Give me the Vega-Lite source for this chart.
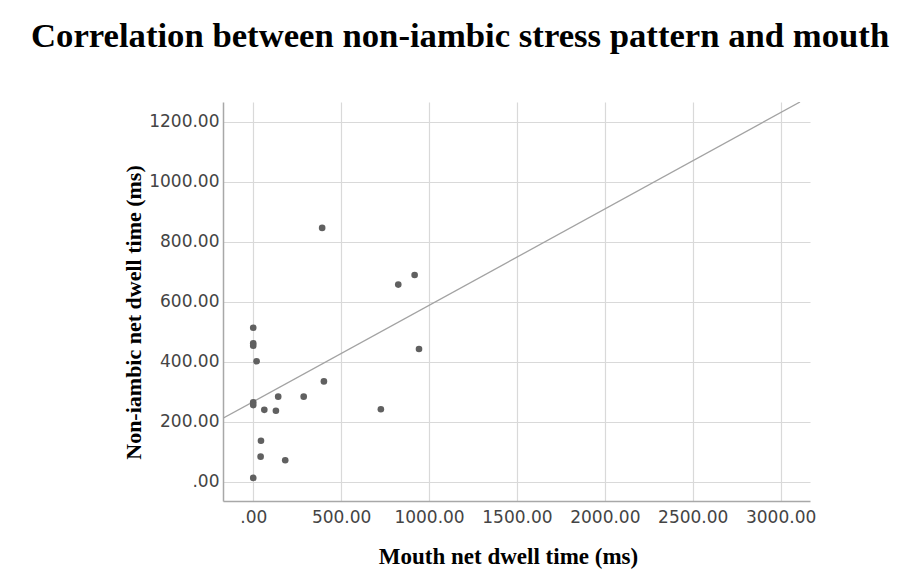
{
  "$schema": "https://vega.github.io/schema/vega-lite/v6.json",
  "width": 587,
  "height": 399,
  "autosize": {"type": "none"},
  "padding": {"left": 223, "top": 102, "right": 88, "bottom": 75},
  "background": "white",
  "title": {
    "text": "Correlation between non-iambic stress pattern and mouth",
    "font": "Liberation Serif",
    "fontSize": 34.7,
    "fontWeight": "bold",
    "color": "black",
    "anchor": "start",
    "frame": "group",
    "dx": -192,
    "baseline": "alphabetic",
    "offset": 20
  },
  "datasets": {
    "points": [
      {"x": 392, "y": 846},
      {"x": 825, "y": 657},
      {"x": 918, "y": 689},
      {"x": 943, "y": 442},
      {"x": 0, "y": 513},
      {"x": 0, "y": 461},
      {"x": 0, "y": 453},
      {"x": 19, "y": 401},
      {"x": 402, "y": 334},
      {"x": 142, "y": 283},
      {"x": 287, "y": 283},
      {"x": 0, "y": 264},
      {"x": 0, "y": 255},
      {"x": 63, "y": 239},
      {"x": 129, "y": 236},
      {"x": 726, "y": 241},
      {"x": 44, "y": 136},
      {"x": 42, "y": 83},
      {"x": 182, "y": 71},
      {"x": 0, "y": 12}
    ],
    "fit": [
      {"x": -172, "y": 211},
      {"x": 3110, "y": 1266}
    ]
  },
  "encoding": {
    "x": {
      "field": "x",
      "type": "quantitative",
      "scale": {"domain": [-172, 3167], "nice": false, "zero": false},
      "axis": {
        "title": "Mouth net dwell time (ms)",
        "values": [0, 500, 1000, 1500, 2000, 2500, 3000],
        "labelExpr": "datum.value == 0 ? '.00' : format(datum.value, '.2f')",
        "ticks": false,
        "labelPadding": 8,
        "labelFont": "DejaVu Sans",
        "labelFontSize": 17,
        "labelColor": "#444444",
        "labelFlush": false,
        "titleFont": "Liberation Serif",
        "titleFontSize": 23,
        "titleFontWeight": "bold",
        "titleColor": "black",
        "titlePadding": 20,
        "titleX": 285,
        "domainColor": "#a8a8a8",
        "domainWidth": 1.5,
        "gridColor": "#d9d9d9",
        "gridWidth": 1.2
      }
    },
    "y": {
      "field": "y",
      "type": "quantitative",
      "scale": {"domain": [-65, 1266], "nice": false, "zero": false},
      "axis": {
        "title": "Non-iambic net dwell time (ms)",
        "values": [0, 200, 400, 600, 800, 1000, 1200],
        "labelExpr": "datum.value == 0 ? '.00' : format(datum.value, '.2f')",
        "ticks": false,
        "labelPadding": 4,
        "labelFont": "DejaVu Sans",
        "labelFontSize": 17,
        "labelColor": "#444444",
        "labelFlush": false,
        "titleFont": "Liberation Serif",
        "titleFontSize": 22,
        "titleFontWeight": "bold",
        "titleColor": "black",
        "titlePadding": 3,
        "titleY": 210,
        "domainColor": "#a8a8a8",
        "domainWidth": 1.5,
        "gridColor": "#d9d9d9",
        "gridWidth": 1.2
      }
    }
  },
  "layer": [
    {
      "data": {"name": "fit"},
      "mark": {"type": "line", "color": "#a3a3a3", "strokeWidth": 1.3, "clip": true}
    },
    {
      "data": {"name": "points"},
      "mark": {"type": "circle", "size": 44, "color": "#606060", "opacity": 1}
    }
  ],
  "config": {"view": {"stroke": null}}
}
